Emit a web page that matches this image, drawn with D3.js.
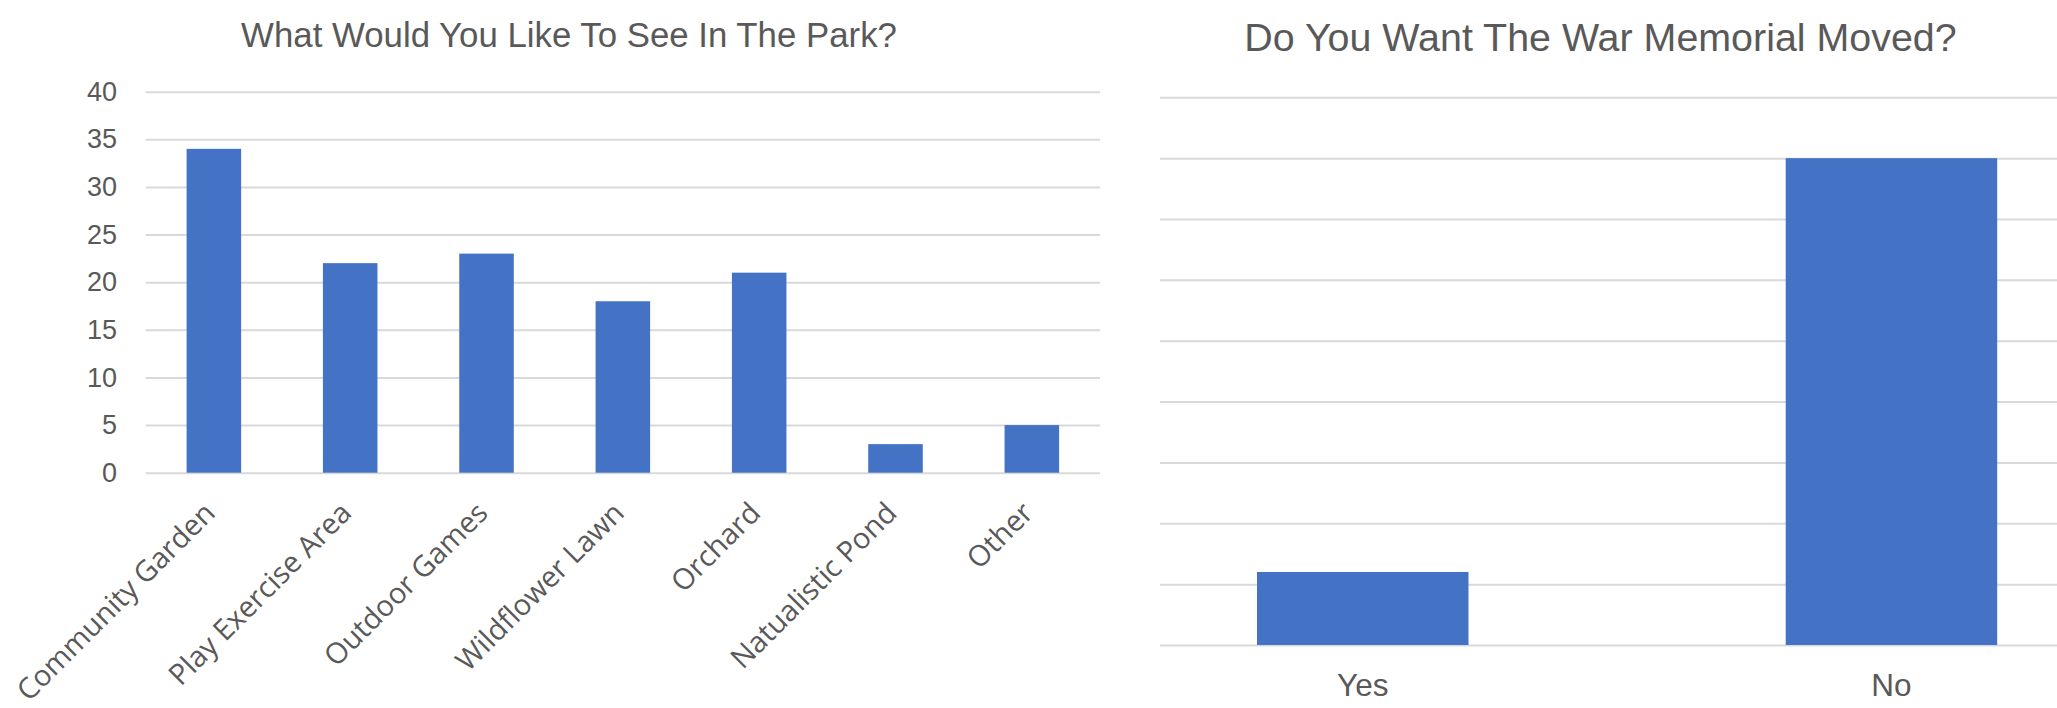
<!DOCTYPE html>
<html>
<head>
<meta charset="utf-8">
<script src="https://cdn.jsdelivr.net/npm/d3@7"></script>
<style>
  html, body { margin: 0; padding: 0; background: #fff; }
  svg text { fill: #595959; }
  .grid line { stroke: #d9d9d9; stroke-width: 2; }
  .grid .domain { display: none; }
</style>
</head>
<body>
<div id="root"></div>
<script>
// park chart
var parkTitle = "What Would You Like To See In The Park?";
var parkCats = ["Community Garden", "Play Exercise Area", "Outdoor Games", "Wildflower Lawn",
    "Orchard", "Natualistic Pond", "Other"];
var parkVals = [34, 22, 23, 18, 21, 3, 5];
var parkTicks = [0, 5, 10, 15, 20, 25, 30, 35, 40];

// memorial chart (its y labels are hidden behind the left panel)
var memTitle = "Do You Want The War Memorial Moved?";
var memCats = ["Yes", "No"];
var memVals = [6, 40];
var memTicks = [0, 5, 10, 15, 20, 25, 30, 35, 40, 45];

var W = 2057, H = 708;
var barColor = "#4472c4";

var svg = d3.select("#root")
    .append("svg")
    .attr("width", W)
    .attr("height", H);

// ---- right chart first, left panel sits on top of it ----
var xR = d3.scaleBand().domain(memCats).range([1098.4, 2155.8])
    .paddingInner(0.6).paddingOuter(0.3);
var yR = d3.scaleLinear().domain([0, 45]).range([645, 97.3]);

var right = svg.append("g");

right.append("g")
    .attr("class", "grid")
    .attr("transform", "translate(1098.4,0)")
    .call(d3.axisLeft(yR).tickValues(memTicks).tickSize(-(2155.8 - 1098.4)).tickFormat(""));

right.selectAll("rect.bar")
    .data(memVals)
    .enter()
    .append("rect")
    .attr("class", "bar")
    .attr("x", function (d, i) { return xR(memCats[i]); })
    .attr("y", function (d) { return yR(d); })
    .attr("width", xR.bandwidth())
    .attr("height", function (d) { return yR(0) - yR(d); })
    .attr("fill", barColor);

right.selectAll("text.cat")
    .data(memCats)
    .enter()
    .append("text")
    .attr("class", "cat")
    .attr("x", function (d) { return xR(d) + xR.bandwidth() / 2; })
    .attr("y", 695.5)
    .attr("text-anchor", "middle")
    .style("font-family", "'Liberation Sans', Arial, sans-serif")
    .style("font-size", "31.5px")
    .text(function (d) { return d; });

right.append("text")
    .attr("x", 1600.5)
    .attr("y", 50.5)
    .attr("text-anchor", "middle")
    .style("font-family", "'Liberation Sans', Arial, sans-serif")
    .style("font-size", "39.4px")
    .text(memTitle);

// ---- left chart ----
var left = svg.append("g");

left.append("rect")
    .attr("x", 0).attr("y", 0)
    .attr("width", 1160).attr("height", H)
    .attr("fill", "#fff");

var xL = d3.scaleBand().domain(parkCats).range([145.7, 1100])
    .paddingInner(0.6).paddingOuter(0.3);
var yL = d3.scaleLinear().domain([0, 40]).range([472.7, 91.7]);

var yAxis = left.append("g")
    .attr("class", "grid")
    .attr("transform", "translate(145.7,0)")
    .call(d3.axisLeft(yL).tickValues(parkTicks).tickSize(-(1100 - 145.7)).tickPadding(28.7));

yAxis.selectAll("text")
    .style("font-family", "'Liberation Sans', Arial, sans-serif")
    .style("font-size", "27px")
    .attr("fill", "#595959");

left.selectAll("rect.bar")
    .data(parkVals)
    .enter()
    .append("rect")
    .attr("class", "bar")
    .attr("x", function (d, i) { return xL(parkCats[i]); })
    .attr("y", function (d) { return yL(d); })
    .attr("width", xL.bandwidth())
    .attr("height", function (d) { return yL(0) - yL(d); })
    .attr("fill", barColor);

left.selectAll("text.cat")
    .data(parkCats)
    .enter()
    .append("text")
    .attr("class", "cat")
    .attr("text-anchor", "end")
    .attr("transform", function (d) {
        var cx = xL(d) + xL.bandwidth() / 2;
        return "translate(" + (cx + 3) + "," + (yL(0) + 42) + ") rotate(-45)";
    })
    .style("font-family", "'Open Sans', sans-serif")
    .style("font-size", "29px")
    .text(function (d) { return d; });

left.append("text")
    .attr("x", 569)
    .attr("y", 46.7)
    .attr("text-anchor", "middle")
    .style("font-family", "'Liberation Sans', Arial, sans-serif")
    .style("font-size", "34.8px")
    .text(parkTitle);
</script>
</body>
</html>
